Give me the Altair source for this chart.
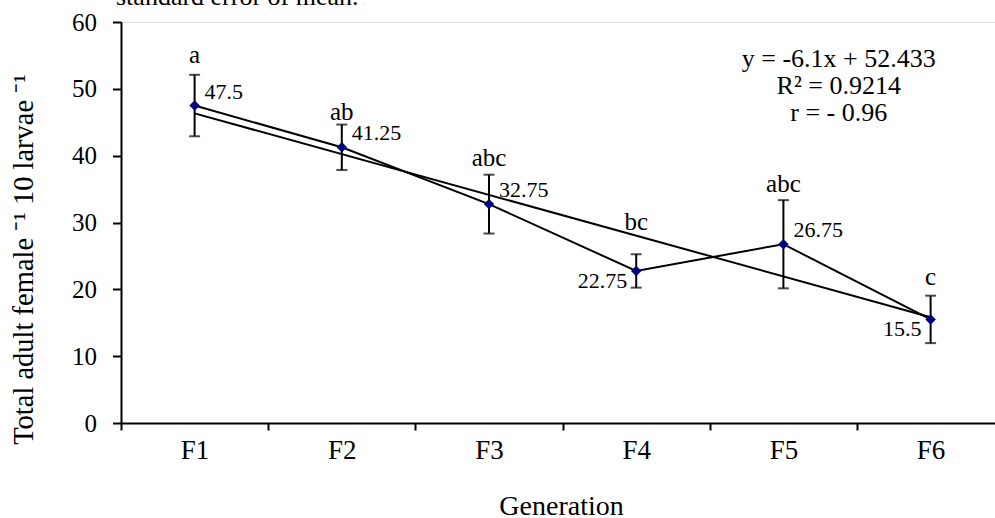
import altair as alt
import pandas as pd

# ---- data ----
generations = ["F1", "F2", "F3", "F4", "F5", "F6"]
means = [47.5, 41.25, 32.75, 22.75, 26.75, 15.5]
se = [4.6, 3.4, 4.4, 2.5, 6.6, 3.55]
letters = ["a", "ab", "abc", "bc", "abc", "c"]
letter_height = [53.85, 45.3, 38.5, 28.9, 34.6, 20.6]
label_side = ["right", "right", "right", "left", "right", "left"]
eq_lines = ["y = -6.1x + 52.433", "R\u00b2 = 0.9214", "r = - 0.96"]
caption = ["standard error of mean."]
y_ticks = [0, 10, 20, 30, 40, 50, 60]
x_ticks = [0.5, 1.5, 2.5, 3.5, 4.5, 5.5]

df = pd.DataFrame({
    "gen": generations,
    "idx": list(range(1, len(generations) + 1)),
    "mean": means,
    "se": se,
    "letter": letters,
    "lh": letter_height,
    "side": label_side,
    "lab": [f"{m:g}" for m in means],
})

FONT = "Liberation Serif"

xs = alt.Scale(domain=[0.5, 6.4375], nice=False, zero=False)
ys = alt.Scale(domain=[0, 60], nice=False)

xaxis = alt.Axis(
    values=x_ticks, labelExpr="'F' + (datum.value + 0.5)", labelOffset=73.6,
    labelFlush=False, labelBaseline="alphabetic", labelPadding=28,
    labelFont=FONT, labelFontSize=27, labelColor="black",
    tickSize=7, tickWidth=2, tickColor="black",
    domainWidth=2, domainColor="black", grid=False,
    title="Generation", titleFont=FONT, titleFontSize=28, titleFontWeight="normal",
    titleColor="black", titleX=440, titleY=91, titleBaseline="alphabetic",
    titleAlign="center",
)
yaxis = alt.Axis(
    values=y_ticks, grid=False,
    labelFont=FONT, labelFontSize=25, labelColor="black", labelPadding=16,
    tickSize=8.5, tickWidth=2, tickColor="black",
    domainWidth=2, domainColor="black",
    title="Total adult female \u207b\u00b9 10 larvae \u207b\u00b9",
    titleFont=FONT, titleFontSize=28.5, titleFontWeight="normal", titleColor="black",
    titleX=-98, titleY=237, titleAngle=270, titleBaseline="middle", titleAlign="center",
)

X = alt.X("idx:Q", scale=xs, axis=xaxis)
Y = alt.Y("mean:Q", scale=ys, axis=yaxis)

base = alt.Chart(df)

trend = base.transform_regression("idx", "mean", extent=[1, 6]).mark_line(
    color="black", strokeWidth=2
).encode(x=X, y=Y)

line = base.mark_line(color="black", strokeWidth=2).encode(x=X, y=Y)

err = base.transform_calculate(
    lo="datum.mean - datum.se", hi="datum.mean + datum.se"
)
rules = err.mark_rule(color="black", strokeWidth=2).encode(
    x=X, y=alt.Y("lo:Q", scale=ys, axis=yaxis), y2="hi:Q"
)
caps_hi = err.mark_tick(orient="horizontal", size=11, thickness=2, color="black").encode(
    x=X, y=alt.Y("hi:Q", scale=ys, axis=yaxis)
)
caps_lo = err.mark_tick(orient="horizontal", size=11, thickness=2, color="black").encode(
    x=X, y=alt.Y("lo:Q", scale=ys, axis=yaxis)
)

points = base.mark_point(
    shape="diamond", filled=True, size=110, color="#000080", opacity=1
).encode(x=X, y=Y)

labels_r = base.transform_filter("datum.side == 'right'").mark_text(
    align="left", baseline="alphabetic", dx=10, dy=-7, font=FONT, fontSize=22, color="black"
).encode(x=X, y=Y, text="lab:N")
labels_l = base.transform_filter("datum.side == 'left'").mark_text(
    align="right", baseline="alphabetic", dx=-9, dy=17, font=FONT, fontSize=22, color="black"
).encode(x=X, y=Y, text="lab:N")

letters_t = base.mark_text(
    align="center", baseline="alphabetic", font=FONT, fontSize=25, color="black"
).encode(x=X, y=alt.Y("lh:Q", scale=ys, axis=yaxis), text="letter:N")

eq = alt.Chart(pd.DataFrame({"t": ["\n".join(eq_lines)]})).mark_text(
    align="center", baseline="alphabetic", font=FONT, fontSize=26, color="black",
    lineBreak="\n", lineHeight=26.8
).encode(
    x=alt.X(datum=5.376, scale=xs, axis=xaxis),
    y=alt.Y(datum=53.2, scale=ys, axis=yaxis),
    text="t:N",
)

# caption line cut off at the top edge of the figure (as in the reference)
cap = alt.Chart(pd.DataFrame({"t": caption})).mark_text(
    align="left", baseline="alphabetic", font=FONT, fontSize=26, color="black"
).encode(x=alt.value(-5), y=alt.value(-17.5), text="t:N")

chart = alt.layer(
    trend, line, rules, caps_hi, caps_lo, points, labels_r, labels_l, letters_t, eq, cap
).properties(
    width=874, height=401,
    padding={"left": 121, "top": 22, "right": 0, "bottom": 95},
    autosize=alt.AutoSizeParams(type="none"),
).configure_view(stroke=None).configure(background="white")

chart.save("out.html", embed_options={"renderer": "svg", "actions": False})
